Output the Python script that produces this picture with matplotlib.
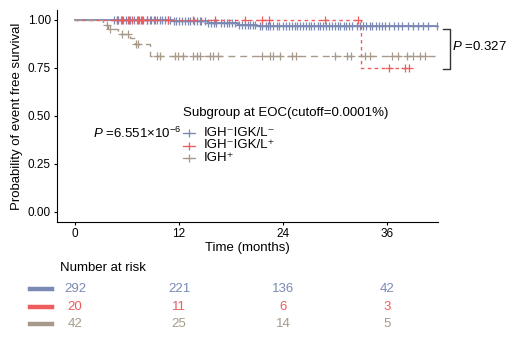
import matplotlib
matplotlib.use("Agg")
import matplotlib.pyplot as plt
import numpy as np
from matplotlib.lines import Line2D
from matplotlib.transforms import blended_transform_factory

plt.rcParams['font.family'] = ['Liberation Sans', 'DejaVu Sans']
plt.rcParams['mathtext.fontset'] = 'custom'
plt.rcParams['mathtext.rm'] = 'Liberation Sans'
plt.rcParams['mathtext.it'] = 'Liberation Sans:italic'

# group names and colours
groups = ['IGH⁻IGK/L⁻', 'IGH⁻IGK/L⁺', 'IGH⁺']
colors = ['#7b8ab5', '#ee5c5e', '#a89a8a']

# step curves: event times (months) and survival after each step
neg_t = [0, 11.3, 15.3, 18.8, 21.0, 41.8]
neg_s = [1.0, 0.993, 0.986, 0.975, 0.967, 0.967]
pos_t = [0, 33.0, 38.6]
pos_s = [1.0, 0.75, 0.75]
igh_t = [0, 3.25, 3.85, 5.0, 6.35, 6.9, 8.65, 41.6]
igh_s = [1.0, 0.976, 0.952, 0.927, 0.904, 0.875, 0.81, 0.81]

# censoring times (months)
neg_cens = [4.5, 4.8, 5.0, 5.3, 5.5, 5.9, 6.2, 6.4, 6.8, 7.1, 7.4, 7.6, 7.9, 8.3,
            8.6, 8.8, 9.1, 9.5, 9.8, 10.0, 10.4, 10.7, 11.0, 11.4, 11.7, 12.0,
            12.4, 12.7, 13.0, 13.3, 13.7, 14.1, 14.4, 14.6, 15.0, 15.4, 15.7, 16.1,
            16.3, 16.8, 17.2, 17.5, 17.8, 18.1, 18.5, 18.9, 19.3, 19.6, 20.0, 20.2,
            20.5, 20.8, 21.3, 21.6, 22.0, 22.3, 22.5, 22.9, 23.3, 23.6, 24.0, 24.3,
            24.7, 25.0, 25.4, 25.6, 26.0, 26.3, 26.7, 27.0, 27.2, 27.6, 28.0, 28.3,
            28.6, 29.0, 29.3, 29.7, 30.0, 30.4, 30.6, 31.0, 31.3, 31.6, 32.0, 32.5,
            32.9, 33.2, 33.6, 34.0, 34.3, 34.7, 35.1, 35.4, 35.8, 36.3, 36.8, 37.3,
            37.8, 38.4, 39.0, 39.6, 40.2, 40.7, 41.8]
pos_cens = [4.85, 5.4, 6.1, 6.6, 7.3, 7.7, 8.3, 9.2, 10.7, 13.6, 16.2, 19.6, 21.6,
            22.4, 28.8, 32.7, 36.3, 38.1, 38.5]
igh_cens = [3.7, 4.0, 5.4, 6.1, 7.0, 7.3, 9.5, 9.8, 11.5, 11.9, 12.5, 13.6, 14.1,
            14.4, 15.6, 15.9, 16.5, 21.6, 22.5, 22.9, 23.7, 25.0, 25.5, 30.0, 31.4,
            31.8, 33.5, 34.0, 36.6, 37.3, 38.3, 39.0, 39.8, 40.4]

# number at risk
risk_times = [0, 12, 24, 36]
risk_neg = [292, 221, 136, 42]
risk_pos = [20, 11, 6, 3]
risk_igh = [42, 25, 14, 5]

p_overall = '$\\mathit{P}$ =6.551×10$^{-6}$'
p_pair = '$\\mathit{P}$ =0.327'

W, H = 510, 339
fig = plt.figure(figsize=(W / 100, H / 100), dpi=100)
ax = fig.add_axes([57 / W, 1 - 221.5 / H, (438 - 57) / W, (221.5 - 10.4) / H])


def px(x, y):
    return x / W, 1 - y / H


def level_at(times, surv, t):
    i = np.searchsorted(times, t, side='right') - 1
    return np.array(surv)[i]


curves = [(neg_t, neg_s, neg_cens, '-', 1.3),
          (pos_t, pos_s, pos_cens, (0, (2.5, 2.5)), 1.0),
          (igh_t, igh_s, igh_cens, (0, (5, 3.5)), 1.0)]
for (t, s, cens, ls, lw), c in zip(curves, colors):
    ax.step(t, s, where='post', color=c, lw=lw, linestyle=ls)
    cy = [level_at(t, s, ct) for ct in cens]
    ax.plot(cens, cy, linestyle='none', marker='+', color=c, ms=5.5, mew=0.9)

ax.set_xlim(-2.08, 41.9)
ax.set_ylim(-0.05, 1.05)
ax.set_xticks(risk_times)
ax.set_yticks([0, 0.25, 0.5, 0.75, 1.0])
ax.set_yticklabels(['0.00', '0.25', '0.50', '0.75', '1.00'])
ax.tick_params(labelsize=8.5, length=2.5, width=0.8, colors='black', pad=2)
for side in ['top', 'right']:
    ax.spines[side].set_visible(False)
for side in ['left', 'bottom']:
    ax.spines[side].set_linewidth(0.8)
ax.set_xlabel('Time (months)', fontsize=9.5, labelpad=1.5)
ax.set_ylabel('Probability of event free survival', fontsize=9.5, labelpad=3)

# legend
fig.text(*px(183, 113), 'Subgroup at EOC(cutoff=0.0001%)', fontsize=9.5, va='center')
for k, (lab, c) in enumerate(zip(groups, colors)):
    yy = 133 + 12.5 * k
    x0, y0 = px(183, yy)
    x1, _ = px(195, yy)
    fig.add_artist(Line2D([x0, x1], [y0, y0], color=c, lw=0.9, transform=fig.transFigure))
    fig.add_artist(Line2D([(x0 + x1) / 2], [y0], color=c, marker='+', ms=5.5, mew=0.9,
                          transform=fig.transFigure))
    fig.text(*px(204, yy), lab, fontsize=9.5, va='center')

fig.text(*px(93, 133), p_overall, fontsize=9.5, va='center')

# bracket for the pairwise comparison
bx = [443, 450, 450, 443]
by = [29, 29, 69, 69]
fig.add_artist(Line2D([b / W for b in bx], [1 - b / H for b in by], color='#333333',
                      lw=1.0, transform=fig.transFigure))
fig.text(*px(452, 47), p_pair, fontsize=9.5, va='center')

# risk table
fig.text(*px(60, 268), 'Number at risk', fontsize=9.5, va='center')
trans = blended_transform_factory(ax.transData, fig.transFigure)
for row, (vals, c) in enumerate(zip([risk_neg, risk_pos, risk_igh], colors)):
    yy = 289 + 17.5 * row
    x0, y0 = px(30, yy)
    x1, _ = px(52, yy)
    fig.add_artist(Line2D([x0, x1], [y0, y0], color=c, lw=3.2, transform=fig.transFigure))
    for t, v in zip(risk_times, vals):
        ax.text(t, y0, str(v), transform=trans, fontsize=9.5, color=c,
                ha='center', va='center', clip_on=False)

fig.savefig('out.png', dpi=100)
